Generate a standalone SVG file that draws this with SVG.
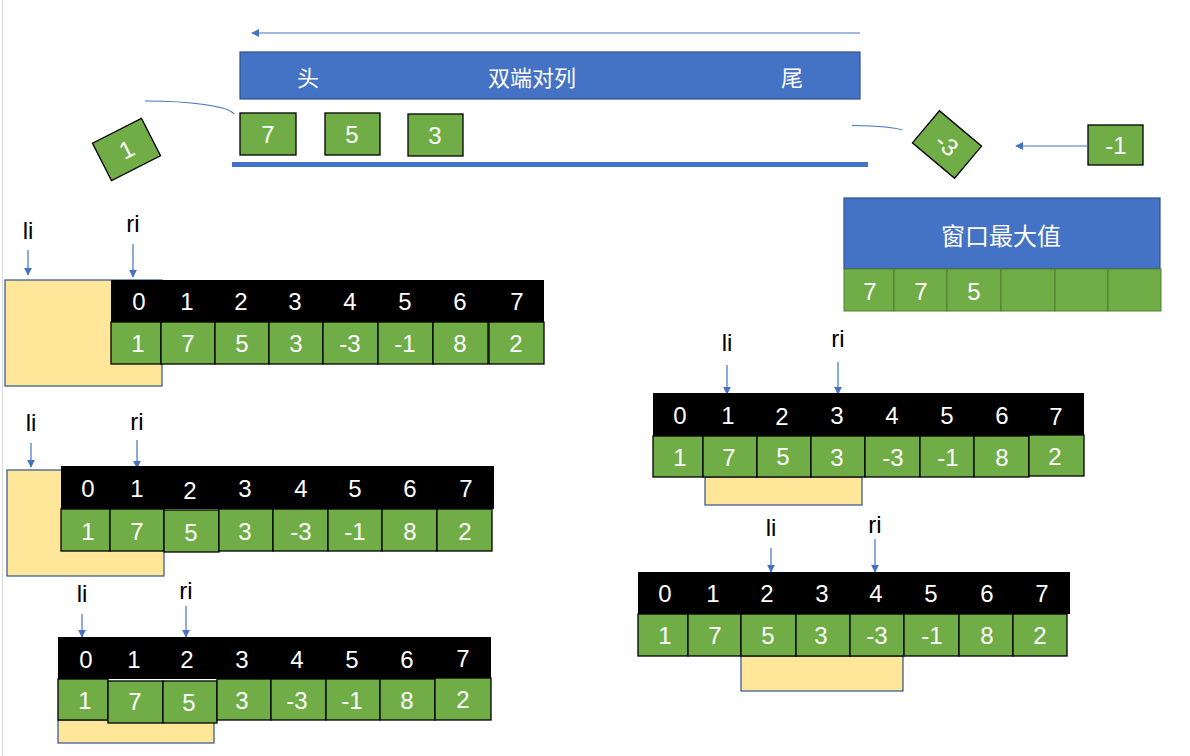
<svg xmlns="http://www.w3.org/2000/svg" width="1190" height="756" viewBox="0 0 1190 756">
<style>
.g{fill:#70AD47;stroke:#000;stroke-width:1.3}
.gw{fill:#70AD47;stroke:#507E32;stroke-width:1}
.hd{fill:#000}
.y{fill:#FFE699;stroke:#2F528F;stroke-width:1.2}
.bl{fill:#4472C4;stroke:#2F528F;stroke-width:1.2}
.t{font-family:"Liberation Sans","Noto Sans CJK SC",sans-serif;font-size:24px;fill:#fff;text-anchor:middle;dominant-baseline:central}
.c{font-family:"Noto Sans CJK SC",sans-serif;font-size:22px;fill:#fff;text-anchor:middle;dominant-baseline:central}
.lb{font-family:"Liberation Sans","Noto Sans CJK SC",sans-serif;font-size:24px;fill:#000;text-anchor:middle}
.ar{stroke:#4472C4;stroke-width:1.2;fill:none}
</style>
<defs>
<marker id="ah" viewBox="0 0 10 10" refX="9" refY="5" markerWidth="8" markerHeight="8" markerUnits="userSpaceOnUse" orient="auto">
<path d="M0,0 L10,5 L0,10 z" fill="#4472C4"/>
</marker>
</defs>
<line x1="2.5" y1="0" x2="2.5" y2="756" stroke="#D9D9D9" stroke-width="1"/>

<g id="deque">
<rect class="bl" x="240" y="52" width="620" height="47"/>
<text class="c" x="308" y="76">头</text>
<text class="c" x="532" y="76">双端对列</text>
<text class="c" x="792" y="76">尾</text>
<rect class="g" x="240" y="113" width="56" height="42"/>
<text class="t" x="268" y="134">7</text>
<rect class="g" x="325" y="113" width="55" height="42"/>
<text class="t" x="352" y="134">5</text>
<rect class="g" x="408" y="114" width="55" height="42"/>
<text class="t" x="435" y="135">3</text>
<rect x="232" y="162" width="636" height="5" fill="#4472C4"/>
</g>

<g id="pop-1" transform="translate(126.5,149.5) rotate(-27)">
<rect class="g" x="-27.5" y="-21" width="55" height="42"/>
<text class="t" x="0" y="0">1</text>
</g>

<g id="pop-3" transform="translate(947,144.5) rotate(40)">
<rect class="g" x="-27.5" y="-21" width="55" height="42"/>
<text class="t" x="0" y="0">-3</text>
</g>

<g id="push-1">
<rect class="g" x="1088" y="125" width="55" height="40"/>
<text class="t" x="1116" y="145">-1</text>
</g>

<g id="window-max">
<rect class="bl" x="844" y="198" width="316" height="71"/>
<text class="c" x="1001" y="234" style="font-size:24px">窗口最大值</text>
<rect class="gw" x="844" y="269" width="50" height="42"/>
<rect class="gw" x="894" y="269" width="53" height="42"/>
<rect class="gw" x="947" y="269" width="54" height="42"/>
<rect class="gw" x="1001" y="269" width="54" height="42"/>
<rect class="gw" x="1055" y="269" width="53" height="42"/>
<rect class="gw" x="1108" y="269" width="53" height="42"/>
<text class="t" x="870" y="291">7</text>
<text class="t" x="921" y="291">7</text>
<text class="t" x="974" y="291">5</text>
</g>

<g id="connectors">
<line class="ar" x1="860" y1="33" x2="252" y2="33" marker-end="url(#ah)"/>
<path class="ar" d="M145,101 C190,101 228,106 234,114"/>
<path class="ar" d="M852,125.5 C875,126 895,127 902,130"/>
<line class="ar" x1="1088" y1="146" x2="1016" y2="146" marker-end="url(#ah)"/>
<line class="ar" x1="28" y1="250" x2="28" y2="275" marker-end="url(#ah)"/>
<line class="ar" x1="133" y1="244" x2="133" y2="277" marker-end="url(#ah)"/>
<line class="ar" x1="31" y1="443" x2="31" y2="467" marker-end="url(#ah)"/>
<line class="ar" x1="137" y1="440" x2="137" y2="468" marker-end="url(#ah)"/>
<line class="ar" x1="82" y1="614" x2="82" y2="637" marker-end="url(#ah)"/>
<line class="ar" x1="186" y1="606" x2="186" y2="637" marker-end="url(#ah)"/>
<line class="ar" x1="727" y1="365" x2="727" y2="394" marker-end="url(#ah)"/>
<line class="ar" x1="838" y1="362" x2="838" y2="394" marker-end="url(#ah)"/>
<line class="ar" x1="771" y1="548" x2="771" y2="572" marker-end="url(#ah)"/>
<line class="ar" x1="875" y1="539" x2="875" y2="572" marker-end="url(#ah)"/>
</g>

<g id="array1">
<rect class="y" x="5" y="280" width="157" height="106"/>
<rect class="hd" x="111" y="280" width="433" height="42"/>
<rect class="g" x="111" y="322" width="50" height="42"/>
<rect class="g" x="161" y="322" width="54" height="42"/>
<rect class="g" x="215" y="322" width="54" height="42"/>
<rect class="g" x="269" y="322" width="54" height="42"/>
<rect class="g" x="323" y="322" width="55" height="42"/>
<rect class="g" x="378" y="322" width="55" height="42"/>
<rect class="g" x="433" y="322" width="55" height="42"/>
<rect class="g" x="489" y="322" width="55" height="42"/>
<text class="t" x="139" y="301">0</text><text class="t" x="187" y="301">1</text><text class="t" x="241" y="301">2</text><text class="t" x="295" y="301">3</text><text class="t" x="350" y="301">4</text><text class="t" x="405" y="301">5</text><text class="t" x="460" y="301">6</text><text class="t" x="517" y="301">7</text>
<text class="t" x="138" y="343">1</text><text class="t" x="188" y="343">7</text><text class="t" x="242" y="343">5</text><text class="t" x="296" y="343">3</text><text class="t" x="350" y="343">-3</text><text class="t" x="405" y="343">-1</text><text class="t" x="460" y="343">8</text><text class="t" x="516" y="343">2</text>
<text class="lb" x="28" y="239">li</text>
<text class="lb" x="133" y="232">ri</text>
</g>

<g id="array2">
<rect class="y" x="7" y="470" width="157" height="106"/>
<rect class="hd" x="61" y="466" width="433" height="43"/>
<rect class="g" x="61" y="509" width="49" height="42"/>
<rect class="g" x="110" y="509" width="54" height="42"/>
<rect class="g" x="164" y="510" width="55" height="42"/>
<rect class="g" x="219" y="509" width="54" height="42"/>
<rect class="g" x="273" y="509" width="55" height="42"/>
<rect class="g" x="328" y="509" width="54" height="42"/>
<rect class="g" x="382" y="509" width="55" height="42"/>
<rect class="g" x="437" y="509" width="55" height="42"/>
<text class="t" x="88" y="488">0</text><text class="t" x="137" y="488">1</text><text class="t" x="190" y="490">2</text><text class="t" x="245" y="488">3</text><text class="t" x="301" y="488">4</text><text class="t" x="355" y="488">5</text><text class="t" x="410" y="488">6</text><text class="t" x="466" y="488">7</text>
<text class="t" x="88" y="531">1</text><text class="t" x="137" y="531">7</text><text class="t" x="191" y="532">5</text><text class="t" x="245" y="531">3</text><text class="t" x="301" y="531">-3</text><text class="t" x="355" y="531">-1</text><text class="t" x="410" y="531">8</text><text class="t" x="465" y="531">2</text>
<text class="lb" x="31" y="431">li</text>
<text class="lb" x="137" y="430">ri</text>
</g>

<g id="array3">
<rect class="y" x="58" y="720" width="156" height="23"/>
<rect class="hd" x="58" y="637" width="433" height="42"/>
<rect class="g" x="58" y="679" width="50" height="41"/>
<rect class="g" x="108" y="681" width="55" height="42"/>
<rect class="g" x="163" y="681" width="54" height="42"/>
<rect class="g" x="217" y="679" width="54" height="41"/>
<rect class="g" x="271" y="679" width="55" height="41"/>
<rect class="g" x="326" y="679" width="54" height="41"/>
<rect class="g" x="380" y="679" width="55" height="41"/>
<rect class="g" x="435" y="678" width="56" height="42"/>
<text class="t" x="86" y="659">0</text><text class="t" x="134" y="659">1</text><text class="t" x="187" y="659">2</text><text class="t" x="242" y="659">3</text><text class="t" x="297" y="659">4</text><text class="t" x="352" y="659">5</text><text class="t" x="407" y="659">6</text><text class="t" x="463" y="658">7</text>
<text class="t" x="85" y="700">1</text><text class="t" x="135" y="701">7</text><text class="t" x="189" y="702">5</text><text class="t" x="242" y="700">3</text><text class="t" x="297" y="700">-3</text><text class="t" x="352" y="700">-1</text><text class="t" x="407" y="700">8</text><text class="t" x="463" y="699">2</text>
<text class="lb" x="82" y="602">li</text>
<text class="lb" x="186" y="599">ri</text>
</g>

<g id="array4">
<rect class="y" x="705" y="477" width="157" height="28"/>
<rect class="hd" x="653" y="393" width="431" height="43"/>
<rect class="g" x="653" y="436" width="50" height="41"/>
<rect class="g" x="703" y="436" width="54" height="41"/>
<rect class="g" x="757" y="436" width="54" height="41"/>
<rect class="g" x="811" y="436" width="54" height="41"/>
<rect class="g" x="865" y="436" width="55" height="41"/>
<rect class="g" x="920" y="436" width="54" height="41"/>
<rect class="g" x="974" y="436" width="55" height="41"/>
<rect class="g" x="1029" y="435" width="55" height="41"/>
<text class="t" x="680" y="415">0</text><text class="t" x="728" y="415">1</text><text class="t" x="782" y="416">2</text><text class="t" x="837" y="415">3</text><text class="t" x="892" y="415">4</text><text class="t" x="947" y="415">5</text><text class="t" x="1002" y="415">6</text><text class="t" x="1056" y="416">7</text>
<text class="t" x="680" y="457">1</text><text class="t" x="729" y="457">7</text><text class="t" x="783" y="456">5</text><text class="t" x="837" y="457">3</text><text class="t" x="893" y="457">-3</text><text class="t" x="948" y="457">-1</text><text class="t" x="1002" y="457">8</text><text class="t" x="1055" y="456">2</text>
<text class="lb" x="727" y="351">li</text>
<text class="lb" x="838" y="347">ri</text>
</g>

<g id="array5">
<rect class="y" x="741" y="656" width="162" height="35"/>
<rect class="hd" x="638" y="572" width="432" height="42"/>
<rect class="g" x="638" y="614" width="50" height="42"/>
<rect class="g" x="688" y="614" width="53" height="42"/>
<rect class="g" x="741" y="614" width="55" height="42"/>
<rect class="g" x="796" y="614" width="54" height="42"/>
<rect class="g" x="850" y="614" width="54" height="42"/>
<rect class="g" x="904" y="614" width="55" height="42"/>
<rect class="g" x="959" y="614" width="54" height="42"/>
<rect class="g" x="1013" y="614" width="54" height="42"/>
<text class="t" x="665" y="593">0</text><text class="t" x="713" y="593">1</text><text class="t" x="767" y="593">2</text><text class="t" x="822" y="593">3</text><text class="t" x="876" y="593">4</text><text class="t" x="931" y="593">5</text><text class="t" x="987" y="593">6</text><text class="t" x="1042" y="593">7</text>
<text class="t" x="665" y="635">1</text><text class="t" x="715" y="635">7</text><text class="t" x="768" y="635">5</text><text class="t" x="821" y="635">3</text><text class="t" x="877" y="635">-3</text><text class="t" x="932" y="635">-1</text><text class="t" x="987" y="635">8</text><text class="t" x="1040" y="635">2</text>
<text class="lb" x="771" y="536">li</text>
<text class="lb" x="875" y="533">ri</text>
</g>
</svg>
